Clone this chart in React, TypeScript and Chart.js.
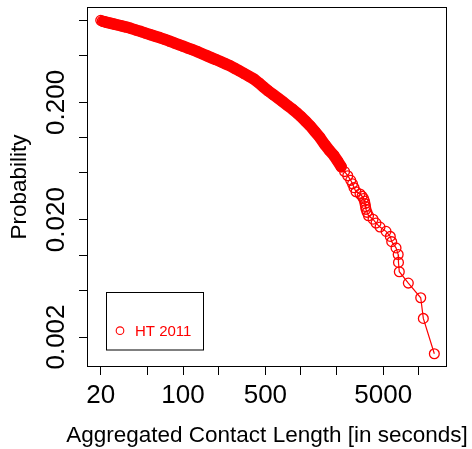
import React, { useEffect, useRef } from "react";
import { Chart, registerables } from "chart.js";

Chart.register(...registerables);

// Aggregated contact length (seconds) and complementary cumulative probability
const contactLength = [
  20, 20.6, 21.2, 21.8, 22.5, 24, 26, 28, 30, 33, 36, 40, 44, 48, 53, 58, 64, 70, 77, 85,
  93, 100, 110, 120, 132, 145, 160, 175, 190, 210, 230, 250, 275, 300, 330, 360, 400, 440,
  480, 530, 580, 640, 700, 770, 850, 930, 1000, 1100, 1200, 1320, 1450, 1600, 1750, 1900,
  2050, 2200, 2350, 2500, 2650, 2745, 2827, 2940, 3178, 3306, 3403, 3471, 3505, 3539, 3574,
  3644, 3752, 4099, 4345, 4699, 5284, 5745, 5905, 6425, 6700, 6740, 6850, 8170, 10410,
  10955, 13585,
];
const probability = [
  1, 0.9845, 0.977, 0.97, 0.963, 0.948, 0.929, 0.913, 0.898, 0.877, 0.855, 0.826, 0.802,
  0.779, 0.7545, 0.733, 0.71, 0.688, 0.664, 0.64, 0.619, 0.602, 0.581, 0.562, 0.5415, 0.52,
  0.498, 0.479, 0.463, 0.443, 0.426, 0.411, 0.39, 0.3715, 0.352, 0.335, 0.3156, 0.2929,
  0.2716, 0.25, 0.2336, 0.2171, 0.2027, 0.1883, 0.1746, 0.1618, 0.1516, 0.1377, 0.126,
  0.1125, 0.1005, 0.0872, 0.0778, 0.0709, 0.0634, 0.0565, 0.0514, 0.0474, 0.0433, 0.0404,
  0.0375, 0.0346, 0.0331, 0.0317, 0.0303, 0.0288, 0.0274, 0.0259, 0.0245, 0.0231, 0.0216,
  0.0202, 0.0187, 0.0173, 0.0159, 0.0144, 0.013, 0.0115, 0.0101, 0.00865, 0.0072, 0.00576,
  0.00432, 0.00288, 0.00144,
];
const seriesLabel = "HT 2011";

const xTicks = [20, 50, 100, 200, 500, 1000, 2000, 5000, 10000];
const xTickLabels = ["20", "", "100", "", "500", "", "", "5000", ""];
const yTicks = [0.002, 0.005, 0.01, 0.02, 0.05, 0.1, 0.2, 0.5, 1];
const yTickLabels = ["0.002", "", "", "0.020", "", "", "0.200", "", ""];
const xTitle = "Aggregated Contact Length [in seconds]";
const yTitle = "Probability";

const X_MIN = 15.3;
const X_MAX = 17400;
const Y_MIN = 0.00111;
const Y_MAX = 1.3;

export default function App() {
  const ref = useRef<HTMLCanvasElement>(null);

  useEffect(() => {
    const canvas = ref.current;
    if (!canvas) return;
    const RED = "#FF0000";
    const FONT = '"Liberation Sans", Arial, Helvetica, sans-serif';
    const points = contactLength.map((x, i) => ({ x, y: probability[i] }));
    const bandStart = 2;
    const bandEnd = contactLength.indexOf(2200) + 1;

    const decor = {
      id: "decor",
      afterDraw(chart: any) {
        const { ctx, chartArea: a, scales } = chart;
        const xs = scales.x;
        const ys = scales.y;
        ctx.save();
        // box
        ctx.strokeStyle = "#000";
        ctx.lineWidth = 1;
        ctx.strokeRect(
          Math.round(a.left) + 0.5,
          Math.round(a.top) + 0.5,
          Math.round(a.right - a.left) - 1,
          Math.round(a.bottom - a.top) - 1
        );
        // tick labels
        ctx.fillStyle = "#000";
        ctx.font = `26px ${FONT}`;
        ctx.textAlign = "center";
        ctx.textBaseline = "alphabetic";
        xTicks.forEach((v, i) => {
          if (xTickLabels[i]) ctx.fillText(xTickLabels[i], xs.getPixelForValue(v), a.bottom + 35.5);
        });
        yTicks.forEach((v, i) => {
          if (!yTickLabels[i]) return;
          ctx.save();
          ctx.translate(a.left - 23, ys.getPixelForValue(v));
          ctx.rotate(-Math.PI / 2);
          ctx.fillText(yTickLabels[i], 0, 0);
          ctx.restore();
        });
        // titles
        ctx.font = `22.5px ${FONT}`;
        ctx.fillText(xTitle, (a.left + a.right) / 2, a.bottom + 74.7);
        ctx.save();
        ctx.translate(a.left - 61, (a.top + a.bottom) / 2);
        ctx.rotate(-Math.PI / 2);
        ctx.fillText(yTitle, 0, 0);
        ctx.restore();
        // legend
        const lx = a.left + 18.7;
        const ly = a.bottom - 75.3;
        ctx.strokeStyle = "#000";
        ctx.strokeRect(Math.round(lx) + 0.5, Math.round(ly) + 0.5, 97, 57.5);
        ctx.strokeStyle = RED;
        ctx.lineWidth = 1.1;
        ctx.beginPath();
        ctx.arc(lx + 14.3, ly + 39, 3.8, 0, Math.PI * 2);
        ctx.stroke();
        ctx.fillStyle = RED;
        ctx.font = `15px ${FONT}`;
        ctx.textAlign = "left";
        ctx.fillText(chart.data.datasets[0].label, lx + 29.3, ly + 44);
        ctx.restore();
      },
    };

    const axis = (min: number, max: number, ticks: number[]) => ({
      type: "logarithmic" as const,
      min,
      max,
      afterBuildTicks: (scale: any) => {
        scale.ticks = ticks.map((value) => ({ value }));
      },
      grid: {
        display: true,
        drawOnChartArea: false,
        drawTicks: true,
        tickLength: 8,
        color: "#000",
        lineWidth: 1,
      },
      border: { display: false },
      ticks: { display: false },
      title: { display: false },
    });

    const chart = new Chart(canvas, {
      type: "line",
      data: {
        datasets: [
          {
            label: seriesLabel,
            data: points,
            borderColor: RED,
            borderWidth: 1.2,
            pointRadius: 4.9,
            pointBorderWidth: 1.3,
            pointBorderColor: RED,
            pointBackgroundColor: "rgba(0,0,0,0)",
            pointStyle: "circle",
            tension: 0,
            fill: false,
            order: 0,
          },
          {
            label: "band",
            data: points.slice(bandStart, bandEnd),
            borderColor: RED,
            borderWidth: 11.5,
            borderCapStyle: "round",
            borderJoinStyle: "round",
            pointRadius: 0,
            tension: 0,
            fill: false,
            order: 1,
          },
        ],
      },
      options: {
        animation: false,
        responsive: false,
        maintainAspectRatio: false,
        layout: { padding: { left: 79, right: 25, top: 7, bottom: 74 } },
        plugins: {
          legend: { display: false },
          tooltip: { enabled: false },
          title: { display: false },
        },
        scales: {
          x: axis(X_MIN, X_MAX, xTicks),
          y: axis(Y_MIN, Y_MAX, yTicks),
        },
      },
      plugins: [decor],
    } as any);

    return () => chart.destroy();
  }, []);

  return (
    <div style={{ position: "fixed", left: 0, top: 0, width: 472, height: 449, background: "#fff" }}>
      <canvas ref={ref} width={472} height={449} style={{ display: "block" }} />
    </div>
  );
}
